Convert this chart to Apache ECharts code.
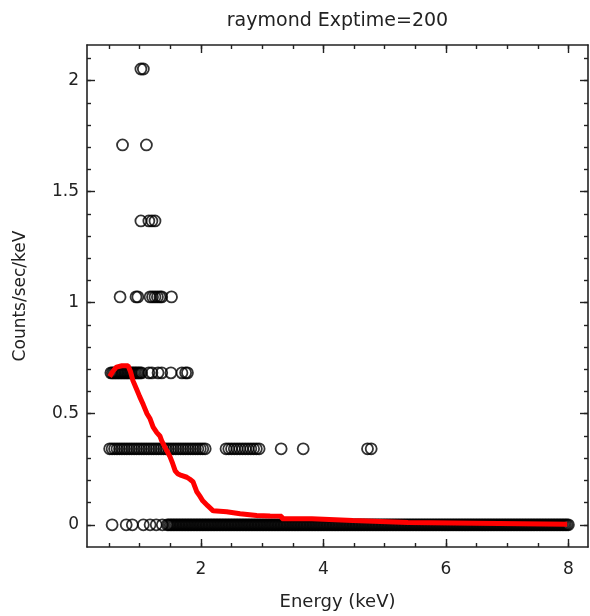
<!DOCTYPE html>
<html>
<head>
<meta charset="utf-8">
<script src="https://cdn.jsdelivr.net/npm/echarts@6/dist/echarts.min.js"></script>
<style>
html,body{margin:0;padding:0;background:#fff;}
#chart{width:590px;height:616px;}
</style>
</head>
<body>
<div id="chart"></div>
<script>
// ---- data ----
var titleText = 'raymond Exptime=200';
var xName = 'Energy (keV)';
var yName = 'Counts/sec/keV';
var xMajorTicks = [2, 4, 6, 8];
var xMinorTicks = [0.5, 1, 1.5, 2, 2.5, 3, 3.5, 4, 4.5, 5, 5.5, 6, 6.5, 7, 7.5, 8];
var yMajorTicks = [0, 0.5, 1, 1.5, 2];
var yMinorTicks = [0, 0.1, 0.2, 0.3, 0.4, 0.5, 0.6, 0.7, 0.8, 0.9, 1, 1.1, 1.2, 1.3, 1.4, 1.5, 1.6, 1.7, 1.8, 1.9, 2, 2.1];

// count-rate levels (counts/sec/keV) of the data points
var rateLevels = [0, 0.342, 0.684, 1.026, 1.368, 1.71, 2.052];

// energies (keV) of the channels at each level
var energiesLevel0 = [0.55, 0.78, 0.88, 1.06, 1.17, 1.27, 1.37,
  1.450, 1.475, 1.500, 1.525, 1.550, 1.575, 1.600, 1.625, 1.650, 1.675, 1.700, 1.725, 1.750, 1.775, 1.800, 1.825, 1.850, 1.875, 1.900, 1.925, 1.950, 1.975,
  2.000, 2.025, 2.050, 2.075, 2.100, 2.125, 2.150, 2.175, 2.200, 2.225, 2.250, 2.275, 2.300, 2.325, 2.350, 2.375, 2.400, 2.425, 2.450, 2.475,
  2.500, 2.525, 2.550, 2.575, 2.600, 2.625, 2.650, 2.675, 2.700, 2.725, 2.750, 2.775, 2.800, 2.825, 2.850, 2.875, 2.900, 2.925, 2.950, 2.975,
  3.000, 3.025, 3.050, 3.075, 3.100, 3.125, 3.150, 3.175, 3.200, 3.225, 3.250, 3.275, 3.300, 3.325, 3.350, 3.375, 3.400, 3.425, 3.450, 3.475,
  3.500, 3.525, 3.550, 3.575, 3.600, 3.625, 3.650, 3.675, 3.700, 3.725, 3.750, 3.775, 3.800, 3.825, 3.850, 3.875, 3.900, 3.925, 3.950, 3.975,
  4.000, 4.025, 4.050, 4.075, 4.100, 4.125, 4.150, 4.175, 4.200, 4.225, 4.250, 4.275, 4.300, 4.325, 4.350, 4.375, 4.400, 4.425, 4.450, 4.475,
  4.500, 4.525, 4.550, 4.575, 4.600, 4.625, 4.650, 4.675, 4.700, 4.725, 4.750, 4.775, 4.800, 4.825, 4.850, 4.875, 4.900, 4.925, 4.950, 4.975,
  5.000, 5.025, 5.050, 5.075, 5.100, 5.125, 5.150, 5.175, 5.200, 5.225, 5.250, 5.275, 5.300, 5.325, 5.350, 5.375, 5.400, 5.425, 5.450, 5.475,
  5.500, 5.525, 5.550, 5.575, 5.600, 5.625, 5.650, 5.675, 5.700, 5.725, 5.750, 5.775, 5.800, 5.825, 5.850, 5.875, 5.900, 5.925, 5.950, 5.975,
  6.000, 6.025, 6.050, 6.075, 6.100, 6.125, 6.150, 6.175, 6.200, 6.225, 6.250, 6.275, 6.300, 6.325, 6.350, 6.375, 6.400, 6.425, 6.450, 6.475,
  6.500, 6.525, 6.550, 6.575, 6.600, 6.625, 6.650, 6.675, 6.700, 6.725, 6.750, 6.775, 6.800, 6.825, 6.850, 6.875, 6.900, 6.925, 6.950, 6.975,
  7.000, 7.025, 7.050, 7.075, 7.100, 7.125, 7.150, 7.175, 7.200, 7.225, 7.250, 7.275, 7.300, 7.325, 7.350, 7.375, 7.400, 7.425, 7.450, 7.475,
  7.500, 7.525, 7.550, 7.575, 7.600, 7.625, 7.650, 7.675, 7.700, 7.725, 7.750, 7.775, 7.800, 7.825, 7.850, 7.875, 7.900, 7.925, 7.950, 7.975,
  8.000];
var energiesLevel1 = [0.51, 0.55, 0.59, 0.63, 0.67, 0.71, 0.75, 0.79, 0.83, 0.87, 0.91, 0.95, 0.99, 1.03, 1.07, 1.11, 1.15, 1.19, 1.23, 1.27,
  1.31, 1.35, 1.39, 1.43, 1.47, 1.51, 1.55, 1.59, 1.63, 1.67, 1.71, 1.75, 1.79, 1.83, 1.87, 1.91, 1.95, 1.99, 2.03, 2.07,
  2.41, 2.455, 2.50, 2.545, 2.59, 2.635, 2.68, 2.725, 2.77, 2.815, 2.86, 2.905, 2.95,
  3.31, 3.67, 4.72, 4.78];
var energiesLevel2 = [0.530, 0.555, 0.580, 0.605, 0.630, 0.655, 0.680, 0.705, 0.730, 0.755, 0.780, 0.805, 0.830, 0.855, 0.880, 0.905,
  0.930, 0.955, 0.980, 1.005, 1.030, 1.15, 1.20, 1.30, 1.36, 1.51, 1.69, 1.75, 1.78];
var energiesLevel3 = [0.68, 0.94, 0.97, 1.17, 1.21, 1.25, 1.29, 1.33, 1.36, 1.52];
var energiesLevel4 = [1.02, 1.15, 1.20, 1.25];
var energiesLevel5 = [0.72, 1.11];
var energiesLevel6 = [1.02, 1.06];

// folded model curve (energy keV, counts/sec/keV)
var modelEnergy = [0.51, 0.56, 0.62, 0.71, 0.81, 0.85, 0.89, 0.95, 1.00, 1.06, 1.12, 1.17, 1.22, 1.28, 1.33, 1.36,
  1.42, 1.49, 1.54, 1.58, 1.62, 1.68, 1.77, 1.82, 1.87, 1.93, 1.98, 2.03, 2.11, 2.20, 2.42, 2.64, 2.91, 3.13,
  3.32, 3.32, 3.81, 3.81, 4.48, 4.48, 5.38, 5.38, 7.98];
var modelRate = [0.667, 0.69, 0.71, 0.716, 0.716, 0.69, 0.649, 0.61, 0.577, 0.54, 0.50, 0.477, 0.44, 0.415, 0.40, 0.378,
  0.345, 0.31, 0.275, 0.243, 0.23, 0.222, 0.214, 0.205, 0.194, 0.15, 0.13, 0.108, 0.086, 0.063, 0.059, 0.05, 0.042, 0.040,
  0.039, 0.027, 0.027, 0.019, 0.019, 0.010, 0.010, 0.002, 0.002];

// ---- build ----
var levelEnergies = [energiesLevel0, energiesLevel1, energiesLevel2, energiesLevel3, energiesLevel4, energiesLevel5, energiesLevel6];
var points = [];
levelEnergies.forEach(function (arr, i) {
  arr.forEach(function (e) { points.push([e, rateLevels[i]]); });
});
var modelData = modelEnergy.map(function (e, i) { return [e, modelRate[i]]; });

var FONT = 'DejaVu Sans';
var TXT = '#222';
var LINE = '#222';
var X_MIN = 0.14, X_MAX = 8.32, Y_MIN = -0.1, Y_MAX = 2.16;

function xAx(opts) {
  var a = {
    type: 'value', min: X_MIN, max: X_MAX, position: opts.pos,
    axisLine: { show: !!opts.line, onZero: false, lineStyle: { color: LINE, width: 1.6 } },
    axisTick: { show: true, inside: true, length: opts.len, customValues: opts.ticks, lineStyle: { color: LINE, width: 1.4 } },
    axisLabel: { show: !!opts.labels, customValues: opts.labels ? xMajorTicks : undefined, color: TXT, fontFamily: FONT, fontSize: 17, margin: 14 },
    splitLine: { show: false }
  };
  if (opts.name) {
    a.name = opts.name; a.nameLocation = 'middle'; a.nameGap = opts.nameGap;
    a.nameTextStyle = { color: TXT, fontFamily: FONT, fontSize: opts.nameSize };
  }
  return a;
}
function yAx(opts) {
  var a = {
    type: 'value', min: Y_MIN, max: Y_MAX, position: opts.pos,
    axisLine: { show: !!opts.line, onZero: false, lineStyle: { color: LINE, width: 1.6 } },
    axisTick: { show: true, inside: true, length: opts.len, customValues: opts.ticks, lineStyle: { color: LINE, width: 1.4 } },
    axisLabel: { show: !!opts.labels, customValues: opts.labels ? yMajorTicks : undefined, color: TXT, fontFamily: FONT, fontSize: 17, margin: 8 },
    splitLine: { show: false }
  };
  if (opts.name) {
    a.name = opts.name; a.nameLocation = 'middle'; a.nameGap = opts.nameGap; a.nameRotate = 90;
    a.nameTextStyle = { color: TXT, fontFamily: FONT, fontSize: 17 };
  }
  return a;
}

var chart = echarts.init(document.getElementById('chart'), null, { renderer: 'canvas' });
chart.setOption({
  animation: false,
  backgroundColor: '#fff',
  grid: { left: 87, right: 2, top: 45, bottom: 68, containLabel: false },
  xAxis: [
    xAx({ pos: 'bottom', line: true, len: 8, ticks: xMajorTicks, labels: true, name: xName, nameGap: 46, nameSize: 18 }),
    xAx({ pos: 'bottom', len: 4, ticks: xMinorTicks }),
    xAx({ pos: 'top', line: true, len: 8, ticks: xMajorTicks, name: titleText, nameGap: 14, nameSize: 19 }),
    xAx({ pos: 'top', len: 4, ticks: xMinorTicks })
  ],
  yAxis: [
    yAx({ pos: 'left', line: true, len: 8, ticks: yMajorTicks, labels: true, name: yName, nameGap: 58 }),
    yAx({ pos: 'left', len: 4, ticks: yMinorTicks }),
    yAx({ pos: 'right', line: true, len: 8, ticks: yMajorTicks }),
    yAx({ pos: 'right', len: 4, ticks: yMinorTicks })
  ],
  series: [
    {
      type: 'scatter', xAxisIndex: 0, yAxisIndex: 0, data: points,
      symbol: 'circle', symbolSize: 11,
      itemStyle: { color: 'rgba(0,0,0,0)', borderColor: '#000', borderWidth: 1.8 },
      emphasis: { disabled: true }, z: 2
    },
    {
      type: 'line', xAxisIndex: 0, yAxisIndex: 0, data: modelData,
      showSymbol: false, symbol: 'none',
      lineStyle: { color: '#ff0000', width: 5 },
      emphasis: { disabled: true }, z: 3
    }
  ]
});
</script>
</body>
</html>
